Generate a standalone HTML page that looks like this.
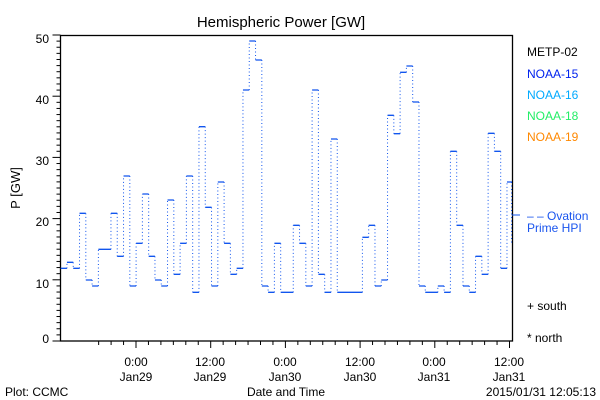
<!DOCTYPE html>
<html><head><meta charset="utf-8"><style>
html,body{margin:0;padding:0;background:#fff;}
svg{display:block;font-family:"Liberation Sans",sans-serif;}
</style></head><body>
<svg id="s" width="600" height="400" viewBox="0 0 600 400" xmlns="http://www.w3.org/2000/svg">
<rect width="600" height="400" fill="#fff"/>
<text x="281" y="27" font-size="15" text-anchor="middle">Hemispheric Power [GW]</text>
<rect x="60.5" y="35.5" width="452" height="305.5" fill="none" stroke="#000" stroke-width="1.3"/>
<g font-size="12" text-anchor="end">
<text x="49" y="43">50</text><text x="49" y="104">40</text><text x="49" y="165">30</text>
<text x="49" y="226">20</text><text x="49" y="288">10</text><text x="49" y="343">0</text>
</g>
<text transform="translate(20,188) rotate(-90)" font-size="13" text-anchor="middle">P [GW]</text>
<g font-size="12" text-anchor="middle">
<text x="136" y="366">0:00</text><text x="136" y="381">Jan29</text>
<text x="210" y="366">12:00</text><text x="210" y="381">Jan29</text>
<text x="285" y="366">0:00</text><text x="285" y="381">Jan30</text>
<text x="360" y="366">12:00</text><text x="360" y="381">Jan30</text>
<text x="434" y="366">0:00</text><text x="434" y="381">Jan31</text>
<text x="509" y="366">12:00</text><text x="509" y="381">Jan31</text>
<text x="286" y="396">Date and Time</text>
</g>
<text x="5" y="396" font-size="12">Plot: CCMC</text>
<text x="596" y="396" font-size="12" text-anchor="end">2015/01/31 12:05:13</text>
<g font-size="12">
<text x="527" y="56" fill="#000">METP-02</text>
<text x="527" y="78" fill="#0022ee">NOAA-15</text>
<text x="527" y="99" fill="#00aaff">NOAA-16</text>
<text x="527" y="120" fill="#22ee66">NOAA-18</text>
<text x="527" y="141" fill="#ff8800">NOAA-19</text>
<text x="527" y="220" fill="#1a55ee">– – Ovation</text>
<text x="527" y="232" fill="#1a55ee">Prime HPI</text>
<text x="527" y="310">+ south</text>
<text x="527" y="342">* north</text>
</g>
<g id="ax" stroke="#000" stroke-width="1"></g>
<g id="d" fill="none" stroke="#1155ee"></g>
</svg>
<script>
var ax=document.getElementById('ax'),d=document.getElementById('d'),h='';
for(var v=0;v<=50;v++){var y=341-v*6.12;var l=(v%10==0)?8:4;h+='<line x1="'+(60.5-l)+'" y1="'+y+'" x2="60.5" y2="'+y+'"/>';}
for(var k=-3;k<=31;k++){var x=136+k*12.45;if(x<60||x>513)continue;var l=(k%6==0)?7:4;h+='<line x1="'+x+'" y1="341" x2="'+x+'" y2="'+(341+l)+'"/>';}
ax.innerHTML=h;
var Y=[715,697,715,550,750,768,658,658,550,679,438,768,640,492,679,750,768,510,733,640,438,787,290,532,768,456,640,733,715,180,33,90,768,787,640,787,787,586,640,768,180,733,787,327,787,787,787,787,622,586,768,750,256,311,127,108,216,768,787,787,768,787,364,586,768,787,679,733,310,364,715,456];
var s=6.286,x0=60.67,hs='',vs='';
for(var i=0;i<Y.length;i++){var y=30+Y[i]/3,xa=x0+i*s,xb=Math.min(x0+(i+1)*s,512);
hs+='M'+xa+' '+y+'H'+xb;
if(i>0){var yp=30+Y[i-1]/3;vs+='M'+xa+' '+yp+'V'+y;}}
vs+='M511.5 '+(30+456/3)+'V'+(30+640/3);
d.innerHTML='<path d="'+hs+'" stroke-width="1.3"/><path d="'+vs+'" stroke-width="1" stroke-dasharray="1 2.5"/><path d="M512 215H520" stroke-width="1"/>';
</script>
</body></html>
